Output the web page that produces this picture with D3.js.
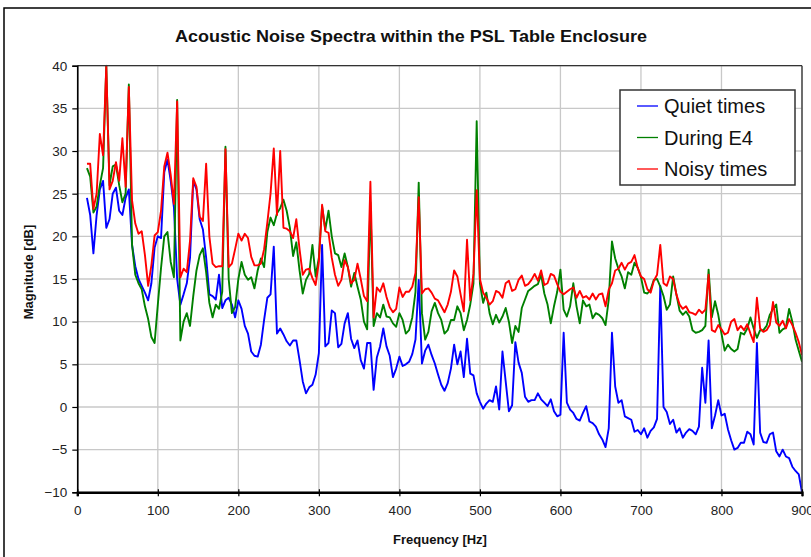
<!DOCTYPE html>
<html><head><meta charset="utf-8">
<script src="https://cdn.jsdelivr.net/npm/d3@7"></script>
<style>html,body{margin:0;padding:0;background:#fff;}svg{display:block;}</style>
</head><body>
<svg id="c" width="811" height="557"></svg>
<script>
// Frequency bins (Hz), 4 Hz spacing from 12 to 900
const freqs = d3.range(12, 901, 4);
const quiet = [
 24.5,22.5,18,22.5,25.5,26.5,21,22,25,25.7,
 23,22.5,24.5,25.5,19,16.5,15,14.2,13.4,12.5,
 14.5,18.7,20,19.8,27.5,29,26.5,23.4,15,12,
 13.2,14.5,17.5,26.5,25.5,22,20.8,17.5,13.2,13,
 12.6,15.5,11.6,12.5,12.8,12,10.5,12.5,11.5,9.5,
 8.6,6.5,6,5.9,7.3,10.2,12.8,13.2,18.8,8.6,
 9.2,8.5,7.7,7.2,7.8,7.8,5.5,3,1.6,2.3,
 2.6,3.8,6.3,19,7.1,7.5,11.3,11,7,7.4,
 9.8,11,8,6.9,7.8,5.5,4.5,7.5,7.5,2,
 5.8,7.1,9.2,7.1,6,3.5,4.5,5.9,4.8,5,
 5.3,6.2,7.9,14.9,5.1,6.6,7.3,6.1,5.1,3.8,
 2.6,1.9,2.8,4.5,7.3,5,6.5,3.5,8.0,3.9,
 3.7,1.6,0.6,-0.2,0.4,0.8,0.6,2.4,-0.3,6.5,
 3,-0.5,0.2,7.6,5.2,4,1.2,0.6,0.8,0.8,
 1.6,0.9,0.5,0.1,0.9,-0.5,-1.1,-0.9,8.7,0.5,
 -0.3,-0.7,-1.4,-1.6,-0.7,0.1,-1.7,-1.9,-2.3,-3.2,
 -3.8,-4.7,-2.5,8.7,2.4,0.5,0.8,-1.1,-1.3,-1.5,
 -2.9,-2.7,-3.2,-2.5,-3.6,-2.8,-2.4,-1.4,14.2,0.0,
 -0.6,-2,-1.5,-3,-2.5,-3.6,-3,-2.6,-2.8,-3.2,
 -2.3,4.6,0.5,7.8,-2.5,-1,0.8,-1,-0.8,-2.6,
 -3.9,-5,-4.8,-4.2,-4.2,-2.9,-3.2,-4.4,7.5,-3,
 -4.1,-4.2,-3.2,-3,-5.2,-5.8,-5,-5.8,-6,-7,
 -7.5,-7.9,-10
];
const duringE4 = [
 28,27,22.8,23.5,26,28,40,26,28.2,28.4,
 26,24,25,37.8,19,15.5,14.5,13.8,11.8,10.3,
 8.2,7.5,12,16.3,20,20.5,17,15.2,36,7.8,
 10,11,9.5,13,16,17.8,18.6,15.8,12.2,10.5,
 12,11.5,13.5,30.5,15,11,11.7,15,17,15.5,
 14.9,15.2,13.9,16,17.4,16.4,20.5,22.2,21.3,22.7,
 23.3,24.3,23,21,17.7,19.3,16,13.3,14.9,15.6,
 19,15.3,17.5,23.5,20.8,23,20,18,17.8,16.4,
 18,16.4,14.1,15.7,14.1,12.6,10,9.1,24,9.5,
 11,10.5,12,10.6,10.5,9.8,9.4,11,10.2,8.6,
 9,10.5,13.5,26.3,11,7.9,8.8,11.2,12.2,11,
 10.2,8.6,9,10.2,10.2,11.8,11,9,10.2,12,
 14.5,33.5,14.5,12.2,13.4,11,9.7,10.8,9.9,10.6,
 11.6,10,7.5,9.5,8.8,11.6,12.6,13.6,13.9,14.2,
 14.4,15.5,13.3,12,9.8,11.8,13.5,16.1,11.4,10.6,
 11.8,14.5,11.8,9.8,12.5,11.8,12,10.4,11,10.8,
 10.4,9.6,12.6,19.4,17.4,16.2,15.3,13.9,15.8,15.5,
 16.9,16.3,15.2,13.4,13.3,13.75,14.9,15,14.1,13,
 11.4,12,15.3,13.2,11.3,10.8,11.2,10.6,9,8.7,
 8.8,9,9.5,16.1,10.5,12.4,10.8,8.6,6.6,7.3,
 6.8,6.5,6.8,8.7,8.5,9.2,10.5,9.2,8.1,9,
 9,9.5,10.8,11.5,12,8.7,9.1,9.3,11.5,10,
 7.9,6.6,5.3
];
const noisy = [
 28.5,28.5,23.2,25,32,29.5,40,25.5,26.5,28.7,
 26.5,31.5,25.8,37.5,24.2,21.5,20.3,20.6,17.8,14.2,
 16.6,20.1,20.5,23,28.2,29.8,27.2,23.8,35.8,15.2,
 16.2,15.8,19.5,26.8,25.8,22.3,21.8,28.5,20,16.8,
 16.4,16.5,16.5,30.2,16.4,16.8,18.5,20.3,19.5,20.3,
 19.8,17.6,16.6,16.6,16.8,18.5,21.6,25,30.3,22.5,
 30,21,20.9,20.6,19.8,22,18.5,15.5,16.1,16.2,
 15.1,14.3,17,23.7,20.6,20.4,17.5,15.5,14.2,14.9,
 17.2,16.4,14.5,14.9,16.8,15,13,12.4,26.4,10.5,
 14,13.5,14.5,12.9,11.7,11.1,11.5,14,12.9,13.5,
 13.5,14.1,15.7,24.6,13.3,13.8,13.9,13.4,12.7,12.5,
 11.8,11.1,12,13.5,16,15.3,13.2,11.2,19.6,12.5,
 15.6,25.4,15,13.4,12.8,12,12.4,13.6,13.4,12.8,
 14.5,14.8,13.6,13.8,14.9,15.4,14.2,14.4,14.9,15.6,
 14.8,16,14.3,14.5,15.6,15.4,14.4,13.5,13.2,13.5,
 13.8,14,12.8,13.6,12.8,13,12.6,13.3,12.6,13.2,
 13.3,11.8,13.75,14.5,16,16.2,16.9,16.1,16.8,17,
 17.8,16.3,15.3,15,13.8,13.4,14.8,15.5,19,14.5,
 14.2,15.3,15,13.2,12,11.5,11.8,11.1,11,10.8,
 11.4,11,11.4,15.5,9,8.8,9.6,9.1,8.5,8.7,
 10,10.3,9,9.5,9,9.7,8.6,7.6,12.8,9.2,
 8.8,9,9.6,12.3,9.9,9.5,10.1,9.2,10.3,9.6,
 8.7,7.6,6.1
];
const seriesNames = ["Quiet times", "During E4", "Noisy times"];
const seriesColors = ["#0000ff", "#008000", "#ff0000"];
const xTicks = [0,100,200,300,400,500,600,700,800,900];
const yTicks = [-10,-5,0,5,10,15,20,25,30,35,40];
const titleText = "Acoustic Noise Spectra within the PSL Table Enclosure";
const xLabel = "Frequency [Hz]";
const yLabel = "Magnitude [dB]";

const svg = d3.select("#c");
const L = 77.3, R = 802, T = 65.7, B = 492.3;
const x = d3.scaleLinear().domain([0, 900]).range([L, R]);
const y = d3.scaleLinear().domain([-10, 40]).range([B, T]);
const fontFam = "Liberation Sans, Arial, sans-serif";

// outer chart border
svg.append("rect").attr("x", 4).attr("y", 8).attr("width", 830).attr("height", 570)
  .attr("fill", "#fff").attr("stroke", "#000").attr("stroke-width", 1.5);

// title
svg.append("text").attr("x", 411).attr("y", 42).attr("text-anchor", "middle")
  .attr("font-family", fontFam).attr("font-weight", "bold")
  .attr("font-size", 17).attr("textLength", 472).attr("lengthAdjust", "spacingAndGlyphs")
  .attr("fill", "#111").text(titleText);

// grid
const grid = svg.append("g");
grid.selectAll("line.h").data(yTicks).join("line")
  .attr("x1", L).attr("x2", R).attr("y1", d => y(d)).attr("y2", d => y(d))
  .attr("stroke", "#c8c8c8").attr("stroke-width", 1.3);
grid.selectAll("line.v").data(xTicks).join("line")
  .attr("y1", T).attr("y2", B).attr("x1", d => x(d)).attr("x2", d => x(d))
  .attr("stroke", "#c8c8c8").attr("stroke-width", 1.3);

// clip
svg.append("clipPath").attr("id", "clip").append("rect")
  .attr("x", L).attr("y", T - 1).attr("width", R - L).attr("height", B - T + 2);

const line = d3.line().x((d, i) => x(freqs[i])).y(d => y(d));
const plot = svg.append("g").attr("clip-path", "url(#clip)");
[quiet, duringE4, noisy].forEach((s, k) => {
  plot.append("path").datum(s).attr("d", line).attr("fill", "none")
    .attr("stroke", seriesColors[k]).attr("stroke-width", 1.9)
    .attr("stroke-linejoin", "round");
});

// frame top/right
svg.append("line").attr("x1", L).attr("x2", R).attr("y1", T).attr("y2", T).attr("stroke", "#333").attr("stroke-width", 1.3);
svg.append("line").attr("x1", R).attr("x2", R).attr("y1", T).attr("y2", B).attr("stroke", "#333").attr("stroke-width", 1.3);

// axes
const yAxis = svg.append("g").attr("transform", `translate(${L},0)`)
  .call(d3.axisLeft(y).tickValues(yTicks).tickSize(5).tickPadding(5));
const xAxis = svg.append("g").attr("transform", `translate(0,${B})`)
  .call(d3.axisBottom(x).tickValues(xTicks).tickSize(4).tickPadding(9));
[xAxis, yAxis].forEach(g => {
  g.select(".domain").attr("stroke", "#000");
  g.selectAll(".tick line").attr("stroke", "#000").attr("stroke-width", 1.2);
  g.selectAll(".tick text").attr("font-family", fontFam).attr("font-size", 13.5).attr("fill", "#222");
});
yAxis.select(".domain").attr("stroke-width", 1.6);
xAxis.select(".domain").attr("stroke-width", 2.4);
xAxis.selectAll(".tick line").attr("y1", -3);

// axis labels
svg.append("text").attr("x", 440).attr("y", 544).attr("text-anchor", "middle")
  .attr("font-family", fontFam).attr("font-weight", "bold").attr("font-size", 13).attr("fill", "#111").text(xLabel);
svg.append("text").attr("transform", "translate(33,272) rotate(-90)").attr("text-anchor", "middle")
  .attr("font-family", fontFam).attr("font-weight", "bold").attr("font-size", 13).attr("fill", "#111").text(yLabel);

// legend
const lg = svg.append("g");
lg.append("rect").attr("x", 620).attr("y", 90).attr("width", 175).attr("height", 95)
  .attr("fill", "#fff").attr("stroke", "#333").attr("stroke-width", 1.5);
seriesNames.forEach((n, i) => {
  const cy = 106 + i * 31.5;
  lg.append("line").attr("x1", 637).attr("x2", 658).attr("y1", cy).attr("y2", cy)
    .attr("stroke", seriesColors[i]).attr("stroke-width", 1.3);
  lg.append("text").attr("x", 664).attr("y", cy + 7).attr("font-family", fontFam)
    .attr("font-size", 20).attr("fill", "#111").text(n);
});
</script>
</body></html>
